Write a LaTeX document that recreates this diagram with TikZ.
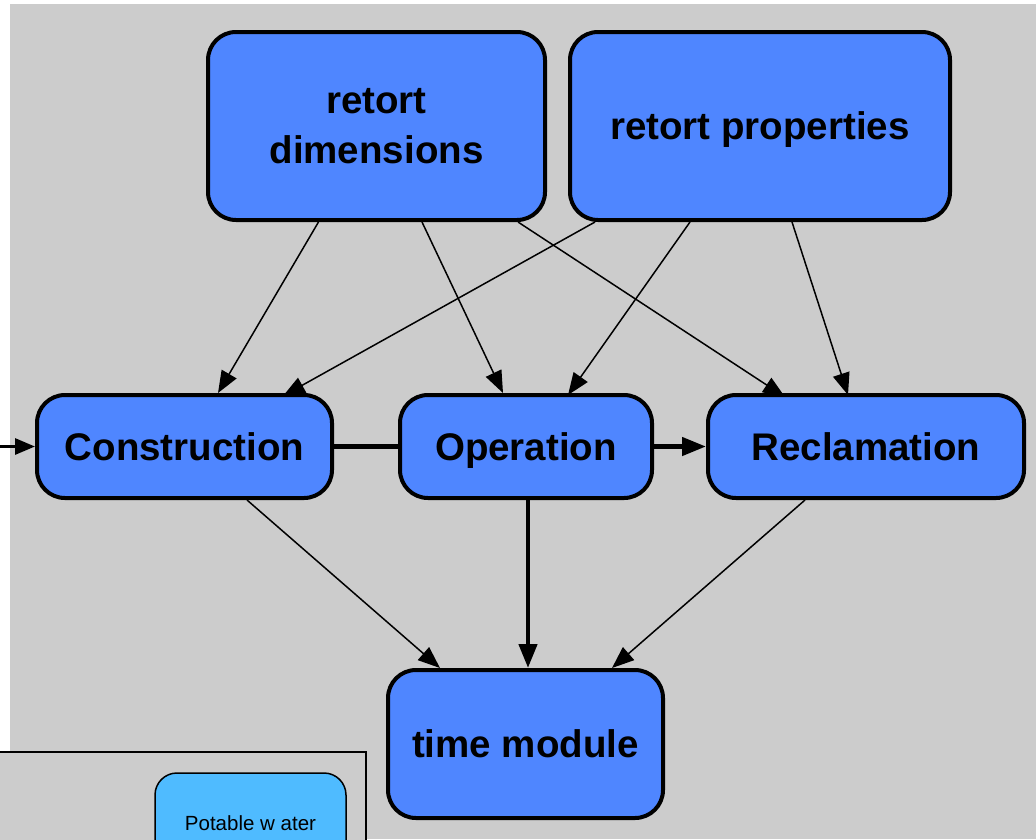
\documentclass[tikz,border=0pt]{standalone}
\usepackage{fontspec}
\setmainfont{Liberation Sans}
\usetikzlibrary{arrows.meta}
\definecolor{bggray}{HTML}{CCCCCC}
\definecolor{nodeblue}{HTML}{4F86FF}
\definecolor{lightblue}{HTML}{4FBBFF}
\begin{document}
\begin{tikzpicture}[x=1pt,y=-1pt,
  box/.style={draw=black,line width=4pt,fill=nodeblue,rounded corners=28pt,
    inner sep=0pt,align=center,
    font=\fontsize{38.5}{50}\selectfont\bfseries},
  oneline/.style={box,text height=27.5pt,text depth=0.5pt},
  legendbox/.style={draw=black,line width=1.5pt,fill=lightblue,rounded corners=22pt,
    inner sep=0pt,align=center,font=\fontsize{20.5}{24}\selectfont},
  thin/.style={line width=1.5pt,-{Triangle[length=22pt,width=17pt]}},
  thick/.style={line width=4.5pt},
  thickarrow/.style={line width=4.5pt,-{Triangle[length=24pt,width=18pt]}}]
\clip (0,0) rectangle (1036,839);
\fill[white] (0,0) rectangle (1036,839);
\fill[bggray] (10,4) rectangle (1036,839);
% nodes
\node[box,minimum width=337pt,minimum height=188pt] (rd) at (376.5,126) {retort\\dimensions};
\node[oneline,minimum width=380pt,minimum height=188pt] (rp) at (760,126) {retort properties};
\node[oneline,minimum width=295pt,minimum height=103pt] (con) at (184.5,446.5) {Construction};
\node[oneline,minimum width=252pt,minimum height=103pt] (op) at (526,446.5) {Operation};
\node[oneline,minimum width=316pt,minimum height=103pt] (rec) at (866,446.5) {Reclamation};
\node[oneline,minimum width=275pt,minimum height=148pt] (tm) at (525.5,744) {time module};
% edges
\draw[thin] ([xshift=-58pt]rd.south) -- ([xshift=33.5pt]con.north);
\draw[thin] ([xshift=45.5pt]rd.south) -- ([xshift=-23pt]op.north);
\draw[thin] ([xshift=141.5pt]rd.south) -- ([xshift=-81pt,yshift=-4pt]rec.north);
\draw[thin] ([xshift=-165pt]rp.south) -- ([xshift=98.5pt,yshift=-3pt]con.north);
\draw[thin] ([xshift=-70pt]rp.south) -- ([xshift=42pt,yshift=-2pt]op.north);
\draw[thin] ([xshift=32pt]rp.south) -- ([xshift=-18pt,yshift=-2pt]rec.north);
\draw[thick] (con.east) -- (op.west);
\draw[thickarrow] (op.east) -- (rec.west);
\coordinate (in) at (0,446.5);
\draw[line width=3pt,-{Triangle[length=20pt,width=16pt]}] (in) -- (con.west);
\draw[thin] ([xshift=62.5pt]con.south) -- ([xshift=-85.5pt]tm.north);
\draw[thickarrow] ([xshift=2pt]op.south) -- ([xshift=2.5pt]tm.north);
\draw[thin] ([xshift=-61pt]rec.south) -- ([xshift=86.5pt]tm.north);
% legend
\draw[line width=1.5pt,fill=bggray] (-5,752) rectangle (366,860);
\node[legendbox,minimum width=191pt,minimum height=100pt] (pw) at (250.5,823) {Potable w ater};
\end{tikzpicture}
\end{document}
